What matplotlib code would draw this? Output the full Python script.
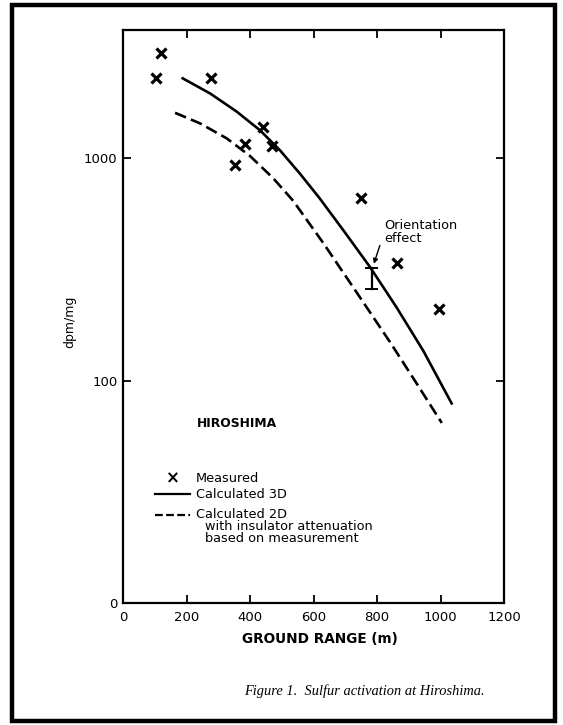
import matplotlib
matplotlib.use('Agg')
import matplotlib.pyplot as plt
import matplotlib.ticker as ticker
from matplotlib.patches import Rectangle


# Measured points (ground range m, dpm/mg)
meas_x = [104, 120, 276, 354, 385, 442, 468, 749, 862, 995]
meas_y = [2300, 2960, 2300, 930, 1156, 1384, 1133, 665, 338, 210]

# Calculated 3D (solid)
calc3d_x = [188, 274, 358, 431, 494, 557, 618, 694, 778, 862, 946, 1035]
calc3d_y = [2286, 1956, 1620, 1337, 1087, 853, 664, 474, 324, 213, 136, 79]

# Calculated 2D (dashed)
calc2d_x = [164, 243, 327, 400, 473, 536, 631, 736, 841, 925, 1004]
calc2d_y = [1600, 1433, 1227, 1023, 813, 643, 415, 249, 149, 97, 64.5]

# orientation effect bar
orient_x = 783
orient_lo = 257
orient_hi = 322

xticks = [0, 200, 400, 600, 800, 1000, 1200]
yticks = [10, 100, 1000]
ytick_labels = ['0', '100', '1000']

W, H = 563, 725
plt.rcParams['font.family'] = ['DejaVu Sans']
fig = plt.figure(figsize=(W / 100, H / 100), dpi=100)

ax = fig.add_axes([123 / W, 1 - 603 / H, (504 - 123) / W, (603 - 30) / H])

ax.plot(meas_x, meas_y, linestyle='none', marker='x', color='black',
		markersize=6.5, markeredgewidth=2.3)
ax.plot(calc3d_x, calc3d_y, color='black', linewidth=1.9)
ax.plot(calc2d_x, calc2d_y, color='black', linewidth=1.9, dashes=(4.5, 2))

# orientation effect I-bar
ax.plot([orient_x, orient_x], [orient_lo, orient_hi], color='black', lw=1.6)
ax.plot([orient_x - 17, orient_x + 17], [orient_hi, orient_hi], color='black', lw=1.4)
ax.plot([orient_x - 17, orient_x + 17], [orient_lo, orient_lo], color='black', lw=1.4)
ax.annotate('', xy=(790, 335), xytext=(809, 405),
			arrowprops=dict(arrowstyle='-|>', color='black', lw=1, mutation_scale=7,
							shrinkA=0, shrinkB=0))
ax.text(822, 464, 'Orientation\neffect', fontsize=9.3, ha='left', va='center',
		linespacing=1.0)

ax.text(233, 64, 'HIROSHIMA', fontsize=8.9, fontweight='bold', va='center')

ax.set_yscale('log')
ax.set_xlim(0, 1200)
ax.set_ylim(10, 3770)

ax.xaxis.set_major_locator(ticker.FixedLocator(xticks))
ax.yaxis.set_major_locator(ticker.FixedLocator(yticks))
ax.yaxis.set_minor_locator(ticker.NullLocator())
ax.yaxis.set_major_formatter(ticker.FixedFormatter(ytick_labels))
ax.tick_params(which='both', direction='in', top=True, right=True, length=6,
			   width=1.3, labelsize=9.5)
ax.tick_params(axis='x', pad=6)
ax.tick_params(axis='y', pad=4)
for s in ax.spines.values():
	s.set_linewidth(1.6)

ax.set_xlabel('GROUND RANGE (m)', fontsize=9.8, fontweight='bold')
ax.xaxis.set_label_coords(0.517, -0.05)
ax.set_ylabel('dpm/mg', fontsize=9)
ax.yaxis.set_label_coords(-0.122, 0.49)

# legend drawn by hand
fig.text(173 / W, 1 - 478 / H, '\u00d7', fontsize=12, fontweight='bold', ha='center', va='center')
fig.text(196 / W, 1 - 478 / H, 'Measured', fontsize=9.3, va='center')
fig.add_artist(plt.Line2D([155 / W, 190 / W], [1 - 494 / H] * 2, color='black', lw=1.6))
fig.text(196 / W, 1 - 494 / H, 'Calculated 3D', fontsize=9.3, va='center')
fig.add_artist(plt.Line2D([155 / W, 190 / W], [1 - 515 / H] * 2, color='black', lw=1.6,
						  dashes=(3.5, 1.5)))
fig.text(196 / W, 1 - 515 / H, 'Calculated 2D', fontsize=9.3, va='center')
fig.text(205 / W, 1 - 527 / H, 'with insulator attenuation', fontsize=9.3, va='center')
fig.text(205 / W, 1 - 539 / H, 'based on measurement', fontsize=9.3, va='center')

fig.text(364 / W, 1 - 691 / H, 'Figure 1.  Sulfur activation at Hiroshima.',
		 fontsize=10.4, style='italic', family=['Liberation Serif', 'DejaVu Serif'],
		 ha='center', va='center')

# outer frame
fig.add_artist(Rectangle((12 / W, 4 / H), 543 / W, 716 / H, transform=fig.transFigure,
						 fill=False, edgecolor='black', linewidth=3.2))

fig.savefig('out.png', dpi=100)
